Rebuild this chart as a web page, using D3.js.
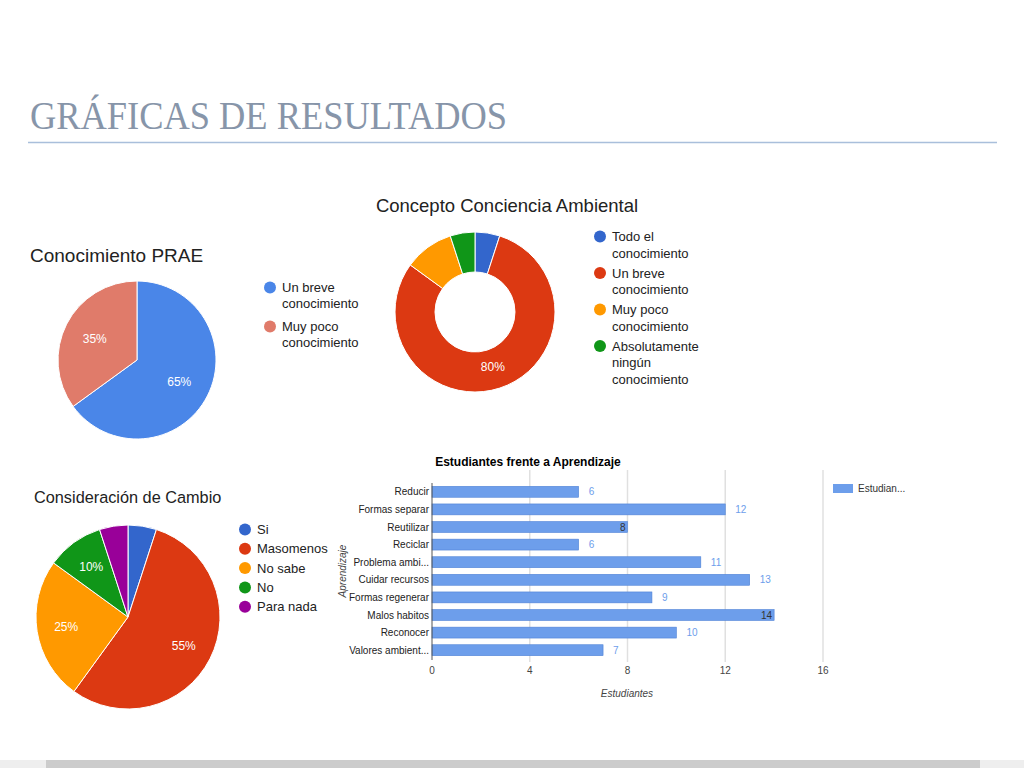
<!DOCTYPE html>
<html>
<head>
<meta charset="utf-8">
<script src="https://cdn.jsdelivr.net/npm/d3@7"></script>
<style>
  body { margin: 0; background: #fff; }
  svg { display: block; font-family: Arial, "Liberation Sans", sans-serif; }
</style>
</head>
<body>
<svg id="chart" width="1024" height="768"></svg>
<script>
// ---- data ----
const praeLabels = [["Un breve", "conocimiento"], ["Muy poco", "conocimiento"]];
const praeValues = [65, 35];
const praeColors = ["#4a86e8", "#e07b6a"];

const conceptoLabels = [["Todo el", "conocimiento"], ["Un breve", "conocimiento"], ["Muy poco", "conocimiento"], ["Absolutamente", "ningún", "conocimiento"]];
const conceptoValues = [5, 80, 10, 5];
const conceptoColors = ["#3366cc", "#dc3912", "#ff9900", "#109618"];

const cambioLabels = [["Si"], ["Masomenos"], ["No sabe"], ["No"], ["Para nada"]];
const cambioValues = [5, 55, 25, 10, 5];
const cambioColors = ["#3366cc", "#dc3912", "#ff9900", "#109618", "#990099"];

const aprendizaje = ["Reducir", "Formas separar", "Reutilizar", "Reciclar", "Problema ambi...", "Cuidar recursos", "Formas regenerar", "Malos habitos", "Reconocer", "Valores ambient..."];
const estudiantes = [6, 12, 8, 6, 11, 13, 9, 14, 10, 7];
const xTicks = [0, 4, 8, 12, 16];

const svg = d3.select("#chart");

// ---- slide header ----
svg.append("text")
    .attr("x", 30).attr("y", 129)
    .attr("textLength", 477).attr("lengthAdjust", "spacingAndGlyphs")
    .style("font-family", "'Liberation Serif', 'DejaVu Serif', serif")
    .style("font-size", "40px")
    .style("fill", "#8795a9")
    .text("GRÁFICAS DE RESULTADOS");

svg.append("line")
    .attr("x1", 28).attr("x2", 997).attr("y1", 142.5).attr("y2", 142.5)
    .attr("stroke", "#a9bfdb").attr("stroke-width", 1.5);

// bottom strip
svg.append("rect").attr("x", 0).attr("y", 760).attr("width", 1024).attr("height", 8).attr("fill", "#eeeeee");
svg.append("rect").attr("x", 46).attr("y", 760).attr("width", 934).attr("height", 8).attr("fill", "#cccccc");

// ---- pie helper ----
function drawPie(cx, cy, r, inner, values, colors, labelPos) {
    const g = svg.append("g").attr("transform", `translate(${cx},${cy})`);
    const pie = d3.pie().sort(null).value(d => d);
    const arc = d3.arc().innerRadius(inner).outerRadius(r);
    const arcs = pie(values);
    g.selectAll("path").data(arcs).enter().append("path")
        .attr("d", arc)
        .attr("fill", (d, i) => colors[i])
        .attr("stroke", "#fff").attr("stroke-width", 1);
    const lab = d3.arc().innerRadius(r * labelPos).outerRadius(r * labelPos);
    g.selectAll("text").data(arcs.filter(d => d.data >= 10)).enter().append("text")
        .attr("transform", d => `translate(${lab.centroid(d)})`)
        .attr("text-anchor", "middle").attr("dy", "0.35em")
        .style("font-size", "12px").style("fill", "#fff")
        .text(d => d.data + "%");
    return g;
}

// legend: y0 = first baseline, lineH = wrapped line step, itemGap = step from last line to next item
function legendDots(x, y0, rows, colors, lineH, itemGap) {
    let y = y0;
    rows.forEach((lines, i) => {
        svg.append("circle").attr("cx", x).attr("cy", y - 4.5).attr("r", 6).attr("fill", colors[i]);
        lines.forEach((t, j) => {
            svg.append("text").attr("x", x + 12).attr("y", y + j * lineH)
                .style("font-size", "13px").style("fill", "#222").text(t);
        });
        y += (lines.length - 1) * lineH + itemGap;
    });
}

// ---- Conocimiento PRAE ----
svg.append("text").attr("x", 30).attr("y", 262)
    .style("font-size", "19px").style("fill", "#222").text("Conocimiento PRAE");
drawPie(137, 360, 79, 0, praeValues, praeColors, 0.6);
legendDots(270, 292, praeLabels, praeColors, 16, 23);

// ---- Concepto Conciencia Ambiental ----
svg.append("text").attr("x", 507).attr("y", 212).attr("text-anchor", "middle")
    .style("font-size", "18.5px").style("fill", "#222").text("Concepto Conciencia Ambiental");
drawPie(475, 312, 80, 40, conceptoValues, conceptoColors, 0.72)
    .selectAll("text").filter(d => d.data < 80).remove();
legendDots(600, 241, conceptoLabels, conceptoColors, 16.5, 20);

// ---- Consideración de Cambio ----
svg.append("text").attr("x", 34).attr("y", 503)
    .style("font-size", "16.3px").style("fill", "#222").text("Consideración de Cambio");
drawPie(128, 617, 92, 0, cambioValues, cambioColors, 0.68);
legendDots(245, 534, cambioLabels, cambioColors, 0, 19.3);

// ---- Estudiantes frente a Aprendizaje ----
const x = d3.scaleLinear().domain([0, 16]).range([432, 823]);
const y = d3.scaleBand().domain(aprendizaje).range([483, 659]).paddingInner(0.38).paddingOuter(0.19);

svg.append("text").attr("x", 528).attr("y", 466).attr("text-anchor", "middle")
    .style("font-size", "12px").style("font-weight", "bold").style("fill", "#000")
    .text("Estudiantes frente a Aprendizaje");

const bar = svg.append("g");
bar.selectAll("line.grid").data(xTicks.slice(1)).enter().append("line")
    .attr("class", "grid")
    .attr("x1", d => x(d)).attr("x2", d => x(d))
    .attr("y1", 470).attr("y2", 662)
    .attr("stroke", "#e0e0e0").attr("stroke-width", 1.5);

bar.selectAll("rect").data(estudiantes).enter().append("rect")
    .attr("x", x(0))
    .attr("y", (d, i) => y(aprendizaje[i]))
    .attr("width", d => x(d) - x(0))
    .attr("height", y.bandwidth())
    .attr("fill", "#6d9eeb").attr("stroke", "#4f82d6").attr("stroke-width", 0.6);

bar.append("line")
    .attr("x1", x(0)).attr("x2", x(0)).attr("y1", 483).attr("y2", 660)
    .attr("stroke", "#555").attr("stroke-width", 1);

// category labels
bar.selectAll("text.cat").data(aprendizaje).enter().append("text")
    .attr("class", "cat")
    .attr("x", 429).attr("y", d => y(d) + y.bandwidth() / 2).attr("dy", "0.35em")
    .attr("text-anchor", "end")
    .style("font-size", "10px").style("fill", "#222").text(d => d);

// value labels: outside when room, inside end when it collides with a gridline
const inside = d => d === 8 || d === 14;
bar.selectAll("text.val").data(estudiantes).enter().append("text")
    .attr("class", "val")
    .attr("x", d => inside(d) ? x(d) - 2 : x(d) + 10)
    .attr("y", (d, i) => y(aprendizaje[i]) + y.bandwidth() / 2).attr("dy", "0.35em")
    .attr("text-anchor", d => inside(d) ? "end" : "start")
    .style("font-size", "10px")
    .style("fill", d => inside(d) ? "#333" : "#6d9eeb")
    .text(d => d);

bar.selectAll("text.tick").data(xTicks).enter().append("text")
    .attr("class", "tick")
    .attr("x", d => x(d)).attr("y", 674).attr("text-anchor", "middle")
    .style("font-size", "10px").style("fill", "#444").text(d => d);

svg.append("text").attr("x", 627).attr("y", 697).attr("text-anchor", "middle")
    .style("font-size", "10px").style("font-style", "italic").style("fill", "#444").text("Estudiantes");

svg.append("text").attr("transform", "translate(346,571) rotate(-90)").attr("text-anchor", "middle")
    .style("font-size", "10px").style("font-style", "italic").style("fill", "#444").text("Aprendizaje");

// legend
svg.append("rect").attr("x", 833).attr("y", 484).attr("width", 20).attr("height", 9).attr("fill", "#6d9eeb");
svg.append("text").attr("x", 858).attr("y", 492)
    .style("font-size", "10px").style("fill", "#333").text("Estudian...");
</script>
</body>
</html>
